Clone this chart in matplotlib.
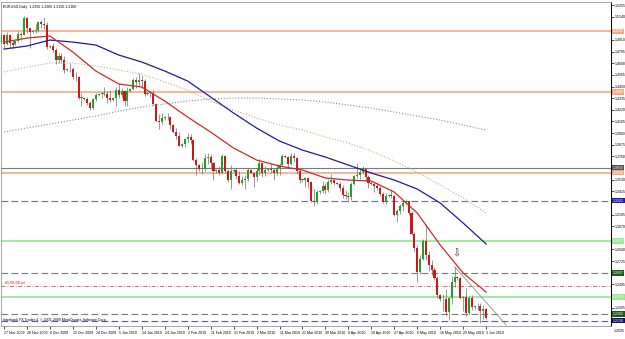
import matplotlib
matplotlib.use("Agg")
import matplotlib.pyplot as plt
import matplotlib.transforms as mtransforms
import numpy as np
import pandas as pd

plt.rcParams['font.family'] = ['Liberation Sans', 'DejaVu Sans']

# broker calendar: Mon-Fri plus Sunday bars, nothing on 25 Dec and 1 Jan
days = pd.date_range("2009-11-16", "2010-06-30", freq="D")
days = days[(days.dayofweek != 5) & ~days.isin(pd.to_datetime(["2009-12-25", "2010-01-01"]))]
pos = {d.strftime("%Y-%m-%d"): i for i, d in enumerate(days)}

# EURUSD daily candles, 16 Nov 2009 .. 3 Jun 2010 (one row per week)
opens = [
    1.4900, 1.4955, 1.4870, 1.4960, 1.4880,
    1.4870, 1.4895, 1.4965, 1.4960, 1.5125, 1.5025,
    1.4990, 1.5000, 1.5010, 1.5090, 1.5070, 1.5060,
    1.4845, 1.4850, 1.4810, 1.4710, 1.4750, 1.4710,
    1.4610, 1.4620, 1.4620, 1.4540, 1.4540, 1.4340,
    1.4340, 1.4330, 1.4290, 1.4240, 1.4330,
    1.4370, 1.4380, 1.4380, 1.4380, 1.4340,
    1.4320, 1.4340, 1.4420, 1.4370, 1.4410, 1.4310,
    1.4410, 1.4430, 1.4510, 1.4490, 1.4510, 1.4500,
    1.4380, 1.4390, 1.4390, 1.4280, 1.4110, 1.4100,
    1.4140, 1.4150, 1.4150, 1.4070, 1.4000, 1.3960,
    1.3865, 1.3880, 1.3930, 1.3950, 1.3920, 1.3720,
    1.3670, 1.3640, 1.3640, 1.3740, 1.3750, 1.3690,
    1.3620, 1.3630, 1.3600, 1.3760, 1.3620, 1.3530,
    1.3620, 1.3630, 1.3570, 1.3500, 1.3530, 1.3540,
    1.3630, 1.3600, 1.3560, 1.3620, 1.3690, 1.3600,
    1.3630, 1.3640, 1.3630, 1.3600, 1.3650, 1.3670,
    1.3760, 1.3750, 1.3680, 1.3760, 1.3740, 1.3620,
    1.3530, 1.3530, 1.3550, 1.3510, 1.3320, 1.3310,
    1.3410, 1.3420, 1.3470, 1.3430, 1.3510, 1.3530,
    1.3500, 1.3490, 1.3450, 1.3380, 1.3370, 1.3360,
    1.3490, 1.3570, 1.3580, 1.3610, 1.3640, 1.3560,
    1.3500, 1.3490, 1.3470, 1.3450, 1.3390, 1.3310,
    1.3370, 1.3380, 1.3370, 1.3180, 1.3220, 1.3270,
    1.3300, 1.3320, 1.3200, 1.2990, 1.2850, 1.2620,
    1.2750, 1.2920, 1.2790, 1.2690, 1.2640, 1.2560,
    1.2390, 1.2350, 1.2350, 1.2220, 1.2360, 1.2520,
    1.2570, 1.2560, 1.2360, 1.2370, 1.2210, 1.2360,
    1.2270, 1.2280, 1.2280, 1.2230, 1.2250,
]
highs = [
    1.4970, 1.4970, 1.4990, 1.4965, 1.4905,
    1.4900, 1.5000, 1.4985, 1.5145, 1.5135, 1.5030,
    1.5010, 1.5070, 1.5100, 1.5105, 1.5140, 1.5090,
    1.4860, 1.4880, 1.4835, 1.4780, 1.4780, 1.4750,
    1.4630, 1.4680, 1.4640, 1.4590, 1.4550, 1.4385,
    1.4350, 1.4350, 1.4310, 1.4340, 1.4390,
    1.4385, 1.4400, 1.4450, 1.4410, 1.4420,
    1.4350, 1.4450, 1.4480, 1.4440, 1.4420, 1.4450,
    1.4440, 1.4530, 1.4540, 1.4580, 1.4560, 1.4520,
    1.4400, 1.4410, 1.4420, 1.4290, 1.4180, 1.4190,
    1.4160, 1.4190, 1.4160, 1.4080, 1.4040, 1.4000,
    1.3890, 1.3940, 1.3990, 1.3980, 1.3930, 1.3740,
    1.3680, 1.3700, 1.3780, 1.3790, 1.3780, 1.3700,
    1.3640, 1.3660, 1.3780, 1.3770, 1.3640, 1.3670,
    1.3640, 1.3650, 1.3620, 1.3570, 1.3580, 1.3650,
    1.3640, 1.3610, 1.3650, 1.3730, 1.3700, 1.3660,
    1.3650, 1.3690, 1.3650, 1.3680, 1.3690, 1.3780,
    1.3770, 1.3760, 1.3790, 1.3790, 1.3750, 1.3640,
    1.3550, 1.3560, 1.3560, 1.3520, 1.3440, 1.3430,
    1.3430, 1.3520, 1.3500, 1.3540, 1.3590, 1.3540,
    1.3510, 1.3510, 1.3480, 1.3430, 1.3410, 1.3510,
    1.3580, 1.3690, 1.3640, 1.3660, 1.3650, 1.3580,
    1.3520, 1.3510, 1.3510, 1.3470, 1.3410, 1.3400,
    1.3390, 1.3440, 1.3380, 1.3240, 1.3290, 1.3330,
    1.3340, 1.3320, 1.3220, 1.3010, 1.2880, 1.2790,
    1.2940, 1.3090, 1.2830, 1.2740, 1.2670, 1.2580,
    1.2400, 1.2400, 1.2450, 1.2370, 1.2580, 1.2670,
    1.2580, 1.2570, 1.2380, 1.2460, 1.2380, 1.2390,
    1.2290, 1.2310, 1.2310, 1.2290, 1.2260,
]
lows = [
    1.4880, 1.4830, 1.4860, 1.4830, 1.4830,
    1.4865, 1.4890, 1.4905, 1.4955, 1.4980, 1.4830,
    1.4980, 1.4980, 1.4985, 1.5030, 1.5020, 1.4820,
    1.4830, 1.4790, 1.4670, 1.4680, 1.4680, 1.4580,
    1.4600, 1.4590, 1.4520, 1.4500, 1.4330, 1.4260,
    1.4320, 1.4270, 1.4220, 1.4230, 1.4310,
    1.4355, 1.4340, 1.4360, 1.4290, 1.4300,
    1.4310, 1.4260, 1.4340, 1.4340, 1.4260, 1.4260,
    1.4400, 1.4420, 1.4440, 1.4460, 1.4440, 1.4360,
    1.4370, 1.4350, 1.4270, 1.4100, 1.4030, 1.4080,
    1.4120, 1.4120, 1.4030, 1.3990, 1.3930, 1.3860,
    1.3855, 1.3850, 1.3900, 1.3880, 1.3710, 1.3580,
    1.3620, 1.3590, 1.3620, 1.3680, 1.3640, 1.3530,
    1.3600, 1.3580, 1.3590, 1.3600, 1.3510, 1.3440,
    1.3610, 1.3540, 1.3490, 1.3480, 1.3440, 1.3520,
    1.3590, 1.3460, 1.3520, 1.3580, 1.3560, 1.3570,
    1.3620, 1.3600, 1.3530, 1.3580, 1.3580, 1.3660,
    1.3740, 1.3650, 1.3670, 1.3700, 1.3590, 1.3500,
    1.3510, 1.3460, 1.3450, 1.3310, 1.3270, 1.3290,
    1.3390, 1.3400, 1.3390, 1.3410, 1.3490, 1.3480,
    1.3480, 1.3420, 1.3350, 1.3340, 1.3310, 1.3330,
    1.3480, 1.3550, 1.3540, 1.3590, 1.3520, 1.3450,
    1.3480, 1.3410, 1.3430, 1.3370, 1.3300, 1.3290,
    1.3360, 1.3350, 1.3170, 1.3110, 1.3190, 1.3220,
    1.3290, 1.3180, 1.2980, 1.2820, 1.2520, 1.2600,
    1.2740, 1.2740, 1.2630, 1.2590, 1.2540, 1.2360,
    1.2330, 1.2230, 1.2180, 1.2140, 1.2300, 1.2470,
    1.2540, 1.2350, 1.2230, 1.2180, 1.2190, 1.2240,
    1.2250, 1.2240, 1.2110, 1.2150, 1.2150,
]
closes = [
    1.4955, 1.4870, 1.4960, 1.4880, 1.4865,
    1.4895, 1.4965, 1.4960, 1.5125, 1.5025, 1.4990,
    1.5000, 1.5010, 1.5090, 1.5070, 1.5060, 1.4845,
    1.4850, 1.4810, 1.4710, 1.4750, 1.4710, 1.4610,
    1.4620, 1.4620, 1.4540, 1.4540, 1.4340, 1.4340,
    1.4330, 1.4290, 1.4240, 1.4330, 1.4370,
    1.4380, 1.4380, 1.4380, 1.4340, 1.4320,
    1.4340, 1.4420, 1.4370, 1.4410, 1.4310, 1.4410,
    1.4430, 1.4510, 1.4490, 1.4510, 1.4500, 1.4380,
    1.4390, 1.4390, 1.4280, 1.4110, 1.4100, 1.4140,
    1.4150, 1.4150, 1.4070, 1.4000, 1.3960, 1.3865,
    1.3880, 1.3930, 1.3950, 1.3920, 1.3720, 1.3670,
    1.3640, 1.3640, 1.3740, 1.3750, 1.3690, 1.3620,
    1.3630, 1.3600, 1.3760, 1.3620, 1.3530, 1.3620,
    1.3630, 1.3570, 1.3500, 1.3530, 1.3540, 1.3630,
    1.3600, 1.3560, 1.3620, 1.3690, 1.3600, 1.3630,
    1.3640, 1.3630, 1.3600, 1.3650, 1.3670, 1.3760,
    1.3750, 1.3680, 1.3760, 1.3740, 1.3620, 1.3530,
    1.3530, 1.3550, 1.3510, 1.3320, 1.3310, 1.3410,
    1.3420, 1.3470, 1.3430, 1.3510, 1.3530, 1.3500,
    1.3490, 1.3450, 1.3380, 1.3370, 1.3360, 1.3490,
    1.3570, 1.3580, 1.3610, 1.3640, 1.3560, 1.3500,
    1.3490, 1.3470, 1.3450, 1.3390, 1.3310, 1.3370,
    1.3380, 1.3370, 1.3180, 1.3220, 1.3270, 1.3300,
    1.3320, 1.3200, 1.2990, 1.2850, 1.2620, 1.2750,
    1.2920, 1.2790, 1.2690, 1.2640, 1.2560, 1.2390,
    1.2350, 1.2350, 1.2220, 1.2360, 1.2520, 1.2570,
    1.2560, 1.2360, 1.2370, 1.2210, 1.2360, 1.2270,
    1.2280, 1.2280, 1.2230, 1.2250, 1.2160,
]

# date labels on the time scale (every 8 bars)
label_dates = ["2009-11-17", "2009-11-26", "2009-12-06", "2009-12-15", "2009-12-24",
               "2010-01-05", "2010-01-14", "2010-01-24", "2010-02-02", "2010-02-11",
               "2010-02-21", "2010-03-02", "2010-03-11", "2010-03-21", "2010-03-30",
               "2010-04-08", "2010-04-18", "2010-04-27", "2010-05-06", "2010-05-16",
               "2010-05-25", "2010-06-03"]

# moving averages read at the label dates
ma_fast = [1.4889, 1.4929, 1.4949, 1.4791, 1.4603, 1.4475, 1.4445, 1.4307, 1.4148, 1.4000,
           1.3842, 1.3724, 1.3664, 1.3625, 1.3546, 1.3526, 1.3516, 1.3407, 1.3200, 1.2884,
           1.2607, 1.2419]
ma_mid = [1.4820, 1.4850, 1.4909, 1.4889, 1.4860, 1.4761, 1.4692, 1.4603, 1.4504, 1.4346,
          1.4188, 1.4040, 1.3911, 1.3822, 1.3753, 1.3674, 1.3595, 1.3526, 1.3437, 1.3299,
          1.3101, 1.2894]
ma_slow = [1.4593, 1.4642, 1.4682, 1.4682, 1.4652, 1.4613, 1.4573, 1.4494, 1.4415, 1.4307,
           1.4218, 1.4139, 1.4069, 1.4020, 1.3951, 1.3892, 1.3812, 1.3714, 1.3605, 1.3477,
           1.3348, 1.3200]
ma_long = [1.4000, 1.4040, 1.4079, 1.4119, 1.4158, 1.4208, 1.4247, 1.4277, 1.4307, 1.4326,
           1.4336, 1.4336, 1.4326, 1.4317, 1.4297, 1.4267, 1.4237, 1.4198, 1.4158, 1.4119,
           1.4069, 1.4020]

# price scale labels
price_ticks = [1.5255, 1.5140, 1.5025, 1.4910, 1.4795, 1.4680, 1.4565, 1.4450, 1.4335,
               1.4220, 1.4105, 1.3990, 1.3875, 1.3760, 1.3645, 1.3530, 1.3415, 1.3300,
               1.3185, 1.3070, 1.2955, 1.2840, 1.2725, 1.2610, 1.2495, 1.2380, 1.2265,
               1.2150, 1.2035]

# horizontal levels drawn on the chart
levels = [1.4995, 1.4395, 1.3650, 1.3600, 1.3322, 1.2923, 1.2607, 1.2479, 1.2370, 1.2202, 1.2138]
level_colors = ['#f2a987', '#f2a987', '#7a7a7a', '#f2a987', '#6c6ca8', '#98e898',
                '#6f7f6f', '#d45050', '#98e898', '#6f7f6f', '#5a5aa0']
level_styles = ['-', '-', '-', '-', (0, (6, 3)), '-', (0, (6, 3)), (0, (5, 2, 1, 2)), '-',
                (0, (6, 3)), (0, (6, 3))]
level_widths = [1.2, 1.2, 0.8, 1.2, 0.8, 1.3, 0.8, 0.6, 1.3, 0.8, 0.8]
level_boxes = ['#f2a987', '#f2a987', '#505050', '#f2a987', '#1c1cb0', '#98e898',
               '#1d5a1d', None, '#98e898', '#1d5a1d', '#10106a']

# trend line from the 21 May high
trend_dates = ["2010-05-21", "2010-06-11"]
trend_prices = [1.2670, 1.2094]

n = len(closes)
xs = np.arange(n)
o = np.array(opens[:n])
h = np.array(highs[:n])
l = np.array(lows[:n])
c = np.array(closes[:n])

fig = plt.figure(figsize=(6.25, 3.39), dpi=100)
ax = fig.add_axes([0.0016, 0.0383, 0.976, 0.9558])
ax.set_facecolor('white')

for lev, col, ls, lw in zip(levels, level_colors, level_styles, level_widths):
    ax.axhline(lev, color=col, linestyle=ls, linewidth=lw, zorder=2)

up = c >= o
ax.vlines(xs, l, h, color='#6e6e6e', linewidth=0.5, zorder=3)
ax.bar(xs, np.maximum(np.abs(c - o), 0.0003), bottom=np.minimum(o, c), width=0.72,
       color=np.where(up, '#23a023', '#cc1818'), linewidth=0, zorder=4)

ma_x = [pos[d] for d in label_dates]
ax.plot(ma_x, ma_long, color='#8a8aa8', linestyle=(0, (1, 1.6)), linewidth=0.8, zorder=5)
ax.plot(ma_x, ma_slow, color='#d8a098', linestyle=(0, (1, 1.6)), linewidth=0.8, zorder=5)
ax.plot(ma_x, ma_mid, color='#1c1c9c', linewidth=0.9, zorder=5)
ax.plot(ma_x, ma_fast, color='#d22828', linewidth=0.9, zorder=5)

ax.plot([pos[d] for d in trend_dates], trend_prices, color='#8c8c8c', linewidth=0.6, zorder=5)

may21 = pos["2010-05-21"]
ax.annotate('\u21e9', (may21, h[may21]), xytext=(1, 6), textcoords='offset points',
            ha='center', va='bottom', fontsize=7, color='#333333', zorder=6,
            family=['DejaVu Sans'])

ax.set_xlim(-0.04, 212.5)
ax.set_ylim(1.2084, 1.5285)

# price labels hidden under a level box are not shown (as on the terminal)
boxed = [lev for lev, box in zip(levels, level_boxes) if box is not None]
shown = [p for p in price_ticks[:-1] if min(abs(p - b) for b in boxed) > 0.0045]
ax.yaxis.tick_right()
ax.set_yticks(shown)
ax.set_yticklabels(['%.4f' % p for p in shown])
ax.tick_params(axis='y', direction='out', length=2, width=0.5, pad=0.8, labelsize=2.5)
ax.set_xticks(ma_x)
ax.set_xticklabels(['%d %s' % (pd.Timestamp(d).day, pd.Timestamp(d).strftime('%b %Y'))
                    for d in label_dates], ha='left')
ax.tick_params(axis='x', direction='out', length=2, width=0.5, pad=1.5, labelsize=2.6)
ax.annotate('%.4f' % price_ticks[-1], (1.0, price_ticks[-1]), xycoords=('axes fraction', 'data'),
            xytext=(2.2, 0), textcoords='offset points', va='center', fontsize=2.5,
            annotation_clip=False)

for sp in ['top', 'left', 'bottom']:
    ax.spines[sp].set_color('#9a9a9a')
    ax.spines[sp].set_linewidth(0.6)
ax.spines['right'].set_color('black')
ax.spines['right'].set_linewidth(0.7)

trans = mtransforms.blended_transform_factory(ax.transAxes, ax.transData)
for lev, box in zip(levels, level_boxes):
    if box is None:
        continue
    ax.text(1.003, lev, '%.4f' % lev, transform=trans, fontsize=2.5, color='white',
            va='center', ha='left', clip_on=False, zorder=7,
            bbox=dict(boxstyle='square,pad=0.2', facecolor=box, edgecolor='none'))

ax.text(0.004, 0.992, 'EURUSD,Daily  %.4f %.4f %.4f %.4f' % (o[-1], h[-1], l[-1], c[-1]),
        transform=ax.transAxes, fontsize=2.6, va='top', ha='left')
ax.text(0.004, 0.012, 'Interbank FX Trader 4, \u00a9 2001-2009 MetaQuotes Software Corp.',
        transform=ax.transAxes, fontsize=2.6, va='bottom', ha='left')
ax.annotate('#EURUSD,pd', (0.006, levels[7]), xycoords=('axes fraction', 'data'),
            xytext=(0, 1), textcoords='offset points', fontsize=2.4, color='#b03030',
            va='bottom', ha='left')

fig.savefig('out.png', dpi=100, facecolor='white')
